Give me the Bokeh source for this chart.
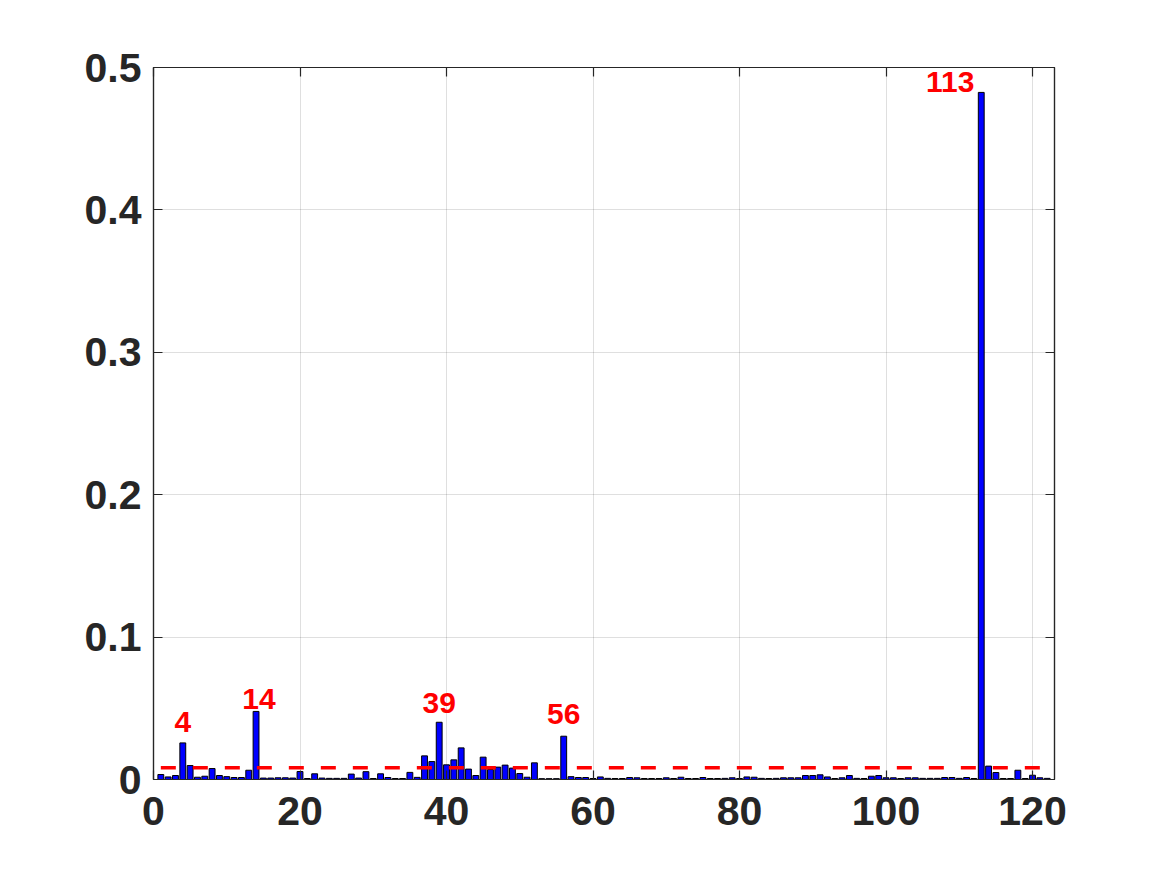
from bokeh.plotting import figure
from bokeh.models import ColumnDataSource, LinearAxis, FixedTicker, Range1d
from bokeh.core.properties import value
from bokeh.embed import file_html
from bokeh.resources import INLINE

# ---------------- data ----------------
weights = [
    0.0035, 0.0018, 0.0028, 0.0257, 0.0098, 0.0016, 0.0023, 0.0077, 0.0028, 0.0020,
    0.0014, 0.0014, 0.0065, 0.0478, 0.0010, 0.0010, 0.0012, 0.0012, 0.0010, 0.0056,
    0.0007, 0.0040, 0.0010, 0.0008, 0.0008, 0.0008, 0.0038, 0.0010, 0.0055, 0.0007,
    0.0040, 0.0014, 0.0007, 0.0007, 0.0050, 0.0015, 0.0166, 0.0126, 0.0402, 0.0103,
    0.0138, 0.0222, 0.0073, 0.0028, 0.0157, 0.0070, 0.0087, 0.0101, 0.0080, 0.0042,
    0.0016, 0.0117, 0.0006, 0.0006, 0.0006, 0.0304, 0.0020, 0.0014, 0.0014, 0.0007,
    0.0018, 0.0008, 0.0007, 0.0007, 0.0014, 0.0012, 0.0007, 0.0007, 0.0007, 0.0012,
    0.0007, 0.0016, 0.0007, 0.0007, 0.0014, 0.0007, 0.0007, 0.0008, 0.0012, 0.0007,
    0.0018, 0.0016, 0.0008, 0.0007, 0.0008, 0.0012, 0.0012, 0.0012, 0.0028, 0.0028,
    0.0033, 0.0018, 0.0007, 0.0012, 0.0028, 0.0008, 0.0007, 0.0023, 0.0028, 0.0012,
    0.0012, 0.0007, 0.0012, 0.0012, 0.0008, 0.0008, 0.0008, 0.0014, 0.0014, 0.0008,
    0.0014, 0.0007, 0.4825, 0.0094, 0.0049, 0.0007, 0.0007, 0.0065, 0.0007, 0.0030,
    0.0012, 0.0008,
]
indices = list(range(1, len(weights) + 1))
threshold = 1.0 / len(weights)
labelled = [4, 14, 39, 56, 113]
x_ticks = [0, 20, 40, 60, 80, 100, 120]
y_ticks = [0, 0.1, 0.2, 0.3, 0.4, 0.5]
y_tick_labels = ["0", "0.1", "0.2", "0.3", "0.4", "0.5"]

# label placement tweaks (screen pixels)
label_dx = [0, 3, 0, 0, -31]
label_dy = [-21, -12, -19, -22, -10]

AX = "#262626"
FONT = "Liberation Sans"

p = figure(
    output_backend="svg", toolbar_location=None,
    frame_width=901, frame_height=712,
    min_border_left=153, min_border_top=67, min_border_bottom=80, min_border_right=100,
    x_range=Range1d(0, 123), y_range=Range1d(0, 0.5),
    background_fill_color="white", border_fill_color="white",
)
p.outline_line_color = AX
p.outline_line_width = 1.2

src = ColumnDataSource(dict(x=indices, top=weights))
p.vbar(x="x", top="top", bottom=0, width=0.8, source=src,
       fill_color="#0000FF", line_color="black", line_width=1)

p.line(x=[indices[0], indices[-1]], y=[threshold, threshold],
       line_color="#FF0000", line_width=3.5, line_dash="15 17")

lab_src = ColumnDataSource(dict(
    x=labelled,
    y=[weights[i - 1] for i in labelled],
    t=[str(i) for i in labelled],
    dx=label_dx, dy=label_dy,
))
p.text(x="x", y="y", text="t", x_offset="dx", y_offset="dy", source=lab_src,
       text_font=value(FONT), text_font_style="bold", text_font_size="30px",
       text_color="#FF0000", text_align="center", text_baseline="alphabetic")

def style_axis(ax, show_labels=True):
    ax.axis_line_color = AX
    ax.axis_line_width = 1.2
    ax.major_tick_line_color = AX
    ax.major_tick_line_width = 1.2
    ax.major_tick_in = 9
    ax.major_tick_out = 0
    ax.minor_tick_line_color = None
    if show_labels:
        ax.major_label_text_font = FONT
        ax.major_label_text_font_style = "bold"
        ax.major_label_text_font_size = "41px"
        ax.major_label_text_color = AX
    else:
        ax.major_label_text_font_size = "0px"
        ax.major_label_text_alpha = 0

xt = FixedTicker(ticks=x_ticks)
yt = FixedTicker(ticks=y_ticks)
p.xaxis.ticker = xt
p.yaxis.ticker = yt
p.yaxis.major_label_overrides = {v: s for v, s in zip(y_ticks, y_tick_labels)}
style_axis(p.xaxis[0])
style_axis(p.yaxis[0])
p.xaxis.major_label_standoff = 17
p.yaxis.major_label_standoff = 12

top_ax = LinearAxis(ticker=FixedTicker(ticks=x_ticks))
right_ax = LinearAxis(ticker=FixedTicker(ticks=y_ticks))
style_axis(top_ax, False)
style_axis(right_ax, False)
p.add_layout(top_ax, "above")
p.add_layout(right_ax, "right")

p.xgrid.ticker = xt
p.ygrid.ticker = yt
p.grid.grid_line_color = AX
p.grid.grid_line_alpha = 0.15
p.grid.grid_line_width = 1

open("out.html", "w").write(file_html(p, INLINE))
